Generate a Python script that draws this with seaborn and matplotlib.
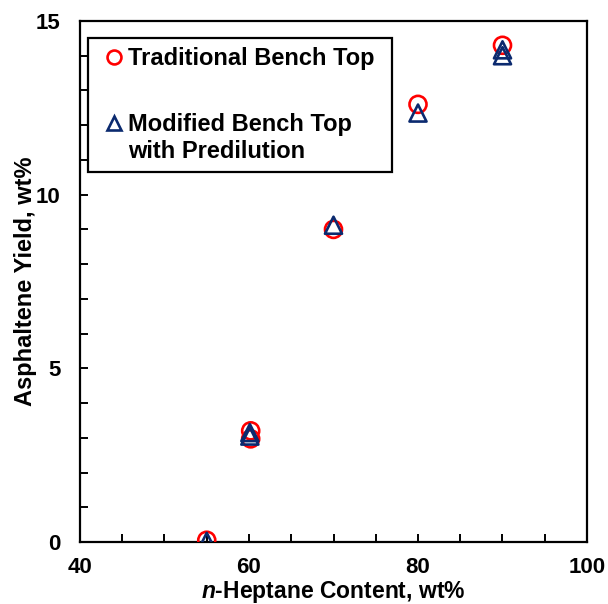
import matplotlib
matplotlib.use("Agg")
import matplotlib.pyplot as plt
from matplotlib.lines import Line2D
from matplotlib.ticker import MultipleLocator
import seaborn as sns
import pandas as pd

# Data
trad_x = [55, 60.2, 60.2, 70, 80, 90]
trad_y = [0.05, 3.2, 2.97, 9.0, 12.6, 14.3]
mod_x = [55, 60.1, 60.1, 70, 80, 90, 90]
mod_y = [0.02, 3.15, 3.05, 9.12, 12.35, 14.0, 14.17]
series_labels = ["Traditional Bench Top", "Modified Bench Top\nwith Predilution"]
xticks = [40, 60, 80, 100]
yticks = [0, 5, 10, 15]

sns.set_theme(style="white")
plt.rcParams['font.family'] = ['Liberation Sans', 'DejaVu Sans']
plt.rcParams['text.color'] = 'black'
plt.rcParams['axes.labelcolor'] = 'black'
plt.rcParams['xtick.color'] = 'black'
plt.rcParams['ytick.color'] = 'black'
plt.rcParams['mathtext.fontset'] = 'custom'
plt.rcParams['mathtext.it'] = 'Liberation Sans:italic:bold'
plt.rcParams['mathtext.rm'] = 'Liberation Sans:bold'

fig = plt.figure(figsize=(6.08, 6.04), dpi=100)
ax = fig.add_axes([80/608, 1 - 542/604, 507/608, 521/604])

red = "#FF0000"
navy = "#0B2A6F"

df_t = pd.DataFrame({"x": trad_x, "y": trad_y})
df_m = pd.DataFrame({"x": mod_x, "y": mod_y})

sns.scatterplot(data=df_t, x="x", y="y", ax=ax, marker="o", s=150,
                facecolor="none", edgecolor=red, linewidth=1.9, zorder=3)
sns.scatterplot(data=df_m, x="x", y="y", ax=ax, marker="^", s=150,
                facecolor="none", edgecolor=navy, linewidth=1.9, zorder=4)

ax.set_xlim(40, 100)
ax.set_ylim(0, 15)
ax.set_xticks(xticks)
ax.set_yticks(yticks)
ax.xaxis.set_minor_locator(MultipleLocator(5))
ax.yaxis.set_minor_locator(MultipleLocator(1))
ax.tick_params(axis="both", which="both", direction="in", length=6, width=1.4,
               color="black", top=False, right=False, bottom=True, left=True)
ax.tick_params(axis="x", which="major", labelsize=16, pad=11)
ax.tick_params(axis="y", which="major", labelsize=16, pad=14)
for lab in ax.get_xticklabels() + ax.get_yticklabels():
    lab.set_fontweight("bold")

for sp in ax.spines.values():
    sp.set_visible(True)
    sp.set_color("black")
    sp.set_linewidth(1.6)
ax.grid(False)

ax.set_xlabel(r"$\mathit{n}$-Heptane Content, wt%", fontsize=16.5, fontweight="bold")
ax.set_ylabel("Asphaltene Yield, wt%", fontsize=17, fontweight="bold")
ax.xaxis.set_label_coords(0.5, -(579 - 542) / 521)
ax.yaxis.set_label_coords(-(80 - 37) / 507, 0.5)

handles = [
    Line2D([], [], marker="o", linestyle="none", markersize=10, markerfacecolor="none",
           markeredgecolor=red, markeredgewidth=1.9),
    Line2D([], [], marker="^", linestyle="none", markersize=10, markerfacecolor="none",
           markeredgecolor=navy, markeredgewidth=1.9),
]
leg = ax.legend(handles, series_labels, loc="upper left",
                bbox_to_anchor=(8/507, 0.5, 304/507, 1 - 17/521 - 0.5), mode="expand",
                frameon=True, fancybox=False,
                edgecolor="black", framealpha=1, borderpad=0.4, labelspacing=1.8,
                handlelength=1.4, handleheight=1.1, handletextpad=-0.1, borderaxespad=0,
                prop={"weight": "bold", "size": 17})
leg.get_frame().set_linewidth(1.6)
# align handles with the first line of each label
for col in leg._legend_handle_box.get_children():
    for item in col.get_children():
        item.align = "top"

fig.savefig("out.png", dpi=100)
